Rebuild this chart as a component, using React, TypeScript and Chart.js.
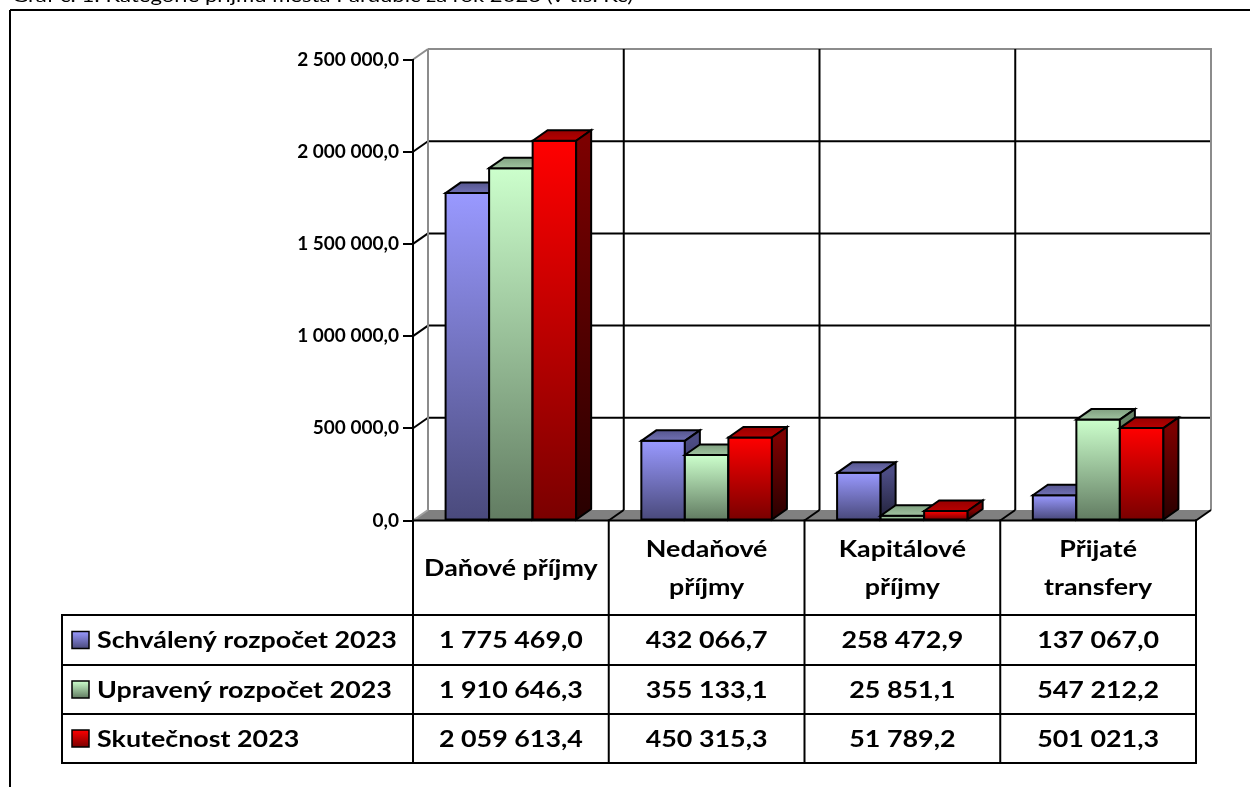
import React, { useEffect, useRef } from "react";
import { Chart, registerables } from "chart.js";

Chart.register(...registerables);

const title = "Graf č. 1: Kategorie příjmů města Pardubic za rok 2023 (v tis. Kč)";
const categories: string[][] = [["Daňové příjmy"], ["Nedaňové", "příjmy"], ["Kapitálové", "příjmy"], ["Přijaté", "transfery"]];
const seriesNames = ["Schválený rozpočet 2023", "Upravený rozpočet 2023", "Skutečnost 2023"];
const schvaleny = [1775469.0, 432066.7, 258472.9, 137067.0];
const upraveny = [1910646.3, 355133.1, 25851.1, 547212.2];
const skutecnost = [2059613.4, 450315.3, 51789.2, 501021.3];
const yTicks = [0, 500000, 1000000, 1500000, 2000000, 2500000];

const palette = [
  { light: "#9999FF", dark: "#4A4A7C", top1: "#7070B4", top2: "#56568F", side1: "#4C4C84", side2: "#22223A" },
  { light: "#CCFFCC", dark: "#627C62", top1: "#A0C4A0", top2: "#80A080", side1: "#668466", side2: "#2C3C2C" },
  { light: "#FF0000", dark: "#7A0000", top1: "#B80000", top2: "#960000", side1: "#7C0000", side2: "#280000" },
];

const DX = 15;
const DY = -10.5;
const FONT = "Lato, 'Noto Sans', sans-serif";
const TXT_SIZE = 22;
const SX = 1.22;

const fmt = (v: number) => {
  const s = v.toFixed(1);
  const [i, d] = s.split(".");
  return i.replace(/\B(?=(\d{3})+(?!\d))/g, " ") + "," + d;
};

function drawText(ctx: CanvasRenderingContext2D, s: string, x: number, y: number, align: CanvasTextAlign, font: string, sx: number) {
  ctx.save();
  ctx.font = font;
  ctx.fillStyle = "#000";
  ctx.textBaseline = "middle";
  ctx.textAlign = align;
  ctx.translate(x, y);
  ctx.scale(sx, 1);
  ctx.fillText(s, 0, 0);
  ctx.restore();
}

function line(ctx: CanvasRenderingContext2D, x1: number, y1: number, x2: number, y2: number, color: string, w = 2) {
  ctx.save();
  ctx.strokeStyle = color;
  ctx.lineWidth = w;
  ctx.beginPath();
  ctx.moveTo(x1, y1);
  ctx.lineTo(x2, y2);
  ctx.stroke();
  ctx.restore();
}

function boundaries(chart: any): number[] {
  const xs = chart.scales.x;
  const { left, right } = chart.chartArea;
  const px = categories.map((_, i) => xs.getPixelForValue(i));
  const b = [left];
  for (let i = 1; i < px.length; i++) b.push((px[i - 1] + px[i]) / 2);
  b.push(right);
  return b;
}

const wallPlugin = {
  id: "wall3d",
  beforeDraw(chart: any) {
    const ctx: CanvasRenderingContext2D = chart.ctx;
    const ys = chart.scales.y;
    const { left, right } = chart.chartArea;
    const b = boundaries(chart);
    const y0 = ys.getPixelForValue(0);
    const yTop = ys.getPixelForValue(yTicks[yTicks.length - 1]);

    // outer frame
    line(ctx, 10, 10, 1250, 10, "#000", 2);
    line(ctx, 10, 10, 10, 787, "#000", 2);
    // title
    drawText(ctx, title, 12, -3, "left", `17px ${FONT}`, 1.3);

    // floor
    ctx.save();
    ctx.fillStyle = "#808080";
    ctx.beginPath();
    ctx.moveTo(left, y0);
    ctx.lineTo(right, y0);
    ctx.lineTo(right + DX, y0 + DY);
    ctx.lineTo(left + DX, y0 + DY);
    ctx.closePath();
    ctx.fill();
    ctx.restore();

    // back wall gridlines
    yTicks.forEach((v, k) => {
      const y = ys.getPixelForValue(v);
      const isTop = k === yTicks.length - 1;
      if (v === 0) return;
      line(ctx, left + DX, y + DY, right + DX, y + DY, isTop ? "#8C8C8C" : "#000");
      line(ctx, left, y, left + DX, y + DY, isTop ? "#8C8C8C" : "#000");
    });
    // back wall side edges
    line(ctx, left + DX, yTop + DY, left + DX, y0 + DY, "#8C8C8C");
    line(ctx, right + DX, yTop + DY - 1, right + DX, y0 + DY, "#8C8C8C");
    // vertical back gridlines
    for (let i = 1; i < b.length - 1; i++) {
      line(ctx, b[i] + DX, yTop + DY, b[i] + DX, y0 + DY, "#000");
    }
    // floor diagonals
    for (let i = 1; i < b.length; i++) {
      line(ctx, b[i], y0, b[i] + DX, y0 + DY, "#000");
    }
    line(ctx, left, y0, left + DX, y0 + DY, "#A0A0A0");
  },
  afterDatasetsDraw(chart: any) {
    const ctx: CanvasRenderingContext2D = chart.ctx;
    const metas = [0, 1, 2].map((i) => chart.getDatasetMeta(i));
    for (let j = 0; j < categories.length; j++) {
      for (let i = 0; i < metas.length; i++) {
        const el = metas[i].data[j];
        const { x, y, base, width } = el.getProps(["x", "y", "base", "width"], true);
        const x0 = x - width / 2;
        const x1 = x + width / 2;
        const p = palette[i];
        ctx.save();
        ctx.lineWidth = 2;
        ctx.strokeStyle = "#000";
        ctx.lineJoin = "miter";
        // front
        const gf = ctx.createLinearGradient(0, y, 0, base);
        gf.addColorStop(0, p.light);
        gf.addColorStop(1, p.dark);
        ctx.fillStyle = gf;
        ctx.beginPath();
        ctx.rect(x0, y, x1 - x0, base - y);
        ctx.fill();
        ctx.stroke();
        // top
        const gt = ctx.createLinearGradient(0, y, 0, y + DY);
        gt.addColorStop(0, p.top1);
        gt.addColorStop(1, p.top2);
        ctx.fillStyle = gt;
        ctx.beginPath();
        ctx.moveTo(x0, y);
        ctx.lineTo(x0 + DX, y + DY);
        ctx.lineTo(x1 + DX, y + DY);
        ctx.lineTo(x1, y);
        ctx.closePath();
        ctx.fill();
        ctx.stroke();
        // side
        const gs = ctx.createLinearGradient(0, y, 0, base);
        gs.addColorStop(0, p.side1);
        gs.addColorStop(1, p.side2);
        ctx.fillStyle = gs;
        ctx.beginPath();
        ctx.moveTo(x1, y);
        ctx.lineTo(x1 + DX, y + DY);
        ctx.lineTo(x1 + DX, base + DY);
        ctx.lineTo(x1, base);
        ctx.closePath();
        ctx.fill();
        ctx.stroke();
        ctx.restore();
      }
    }
  },
  afterDraw(chart: any) {
    const ctx: CanvasRenderingContext2D = chart.ctx;
    const ys = chart.scales.y;
    const { left, right } = chart.chartArea;
    const b = boundaries(chart);
    const y0 = ys.getPixelForValue(0);
    const rowsY = [615, 665, 714, 763];
    const tableLeft = 62;
    const font = `bold ${TXT_SIZE}px ${FONT}`;

    // header top line (front floor edge)
    line(ctx, left, y0, right, y0, "#000");
    // verticals
    b.forEach((bx) => line(ctx, bx, y0 - 1, bx, rowsY[rowsY.length - 1] + 1, "#000"));
    // horizontals
    rowsY.forEach((ry) => line(ctx, tableLeft - 1, ry, right + 1, ry, "#000"));
    line(ctx, tableLeft, rowsY[0], tableLeft, rowsY[rowsY.length - 1], "#000");

    // header labels
    const hc = (y0 + rowsY[0]) / 2;
    const lh = 38;
    categories.forEach((lines, j) => {
      const cx = (b[j] + b[j + 1]) / 2;
      lines.forEach((s, k) => {
        const yy = hc + (k - (lines.length - 1) / 2) * lh + 1;
        drawText(ctx, s, cx, yy, "center", font, SX);
      });
    });

    const data = [schvaleny, upraveny, skutecnost];
    data.forEach((vals, i) => {
      const cy = (rowsY[i] + rowsY[i + 1]) / 2 + 1;
      const p = palette[i];
      // legend key
      const ks = 17;
      const kx = 72;
      const ky = cy - ks / 2 - 1;
      const g = ctx.createLinearGradient(0, ky, 0, ky + ks);
      g.addColorStop(0, p.light);
      g.addColorStop(1, p.dark);
      ctx.save();
      ctx.fillStyle = g;
      ctx.fillRect(kx, ky, ks, ks);
      ctx.strokeStyle = "#000";
      ctx.lineWidth = 1.5;
      ctx.strokeRect(kx, ky, ks, ks);
      ctx.restore();
      drawText(ctx, seriesNames[i], 97, cy, "left", font, SX);
      vals.forEach((v, j) => {
        const cx = (b[j] + b[j + 1]) / 2;
        drawText(ctx, fmt(v), cx, cy, "center", font, SX);
      });
    });
  },
};

export default function App() {
  const ref = useRef<HTMLCanvasElement | null>(null);
  useEffect(() => {
    if (!ref.current) return;
    const chart = new Chart(ref.current, {
      type: "bar",
      data: {
        labels: categories.map((c) => c.join(" ")),
        datasets: [schvaleny, upraveny, skutecnost].map((d, i) => ({
          label: seriesNames[i],
          data: d,
          backgroundColor: "rgba(0,0,0,0)",
          borderWidth: 0,
          categoryPercentage: 0.667,
          barPercentage: 1,
        })),
      },
      options: {
        animation: false,
        responsive: false,
        devicePixelRatio: 1,
        events: [],
        layout: { padding: { left: 0, right: 54, top: 59.5, bottom: 266.5 } },
        plugins: { legend: { display: false }, tooltip: { enabled: false } },
        scales: {
          x: { display: false, offset: true },
          y: {
            min: 0,
            max: 2500000,
            afterBuildTicks: (s: any) => {
              s.ticks = yTicks.map((v) => ({ value: v }));
            },
            afterFit: (s: any) => {
              s.width = 413;
            },
            ticks: {
              callback: (v: any) => fmt(Number(v)),
              font: { family: FONT, weight: "bold", size: 19 },
              color: "#000",
              padding: 4,
            },
            grid: { drawOnChartArea: false, drawTicks: true, tickLength: 10, color: "#000", lineWidth: 2 },
            border: { color: "#000", width: 2 },
          },
        },
      },
      plugins: [wallPlugin],
    } as any);
    return () => chart.destroy();
  }, []);
  return (
    <div style={{ position: "fixed", left: 0, top: 0, width: 1250, height: 787, background: "#fff" }}>
      <canvas ref={ref} width={1250} height={787} style={{ display: "block" }} />
    </div>
  );
}
